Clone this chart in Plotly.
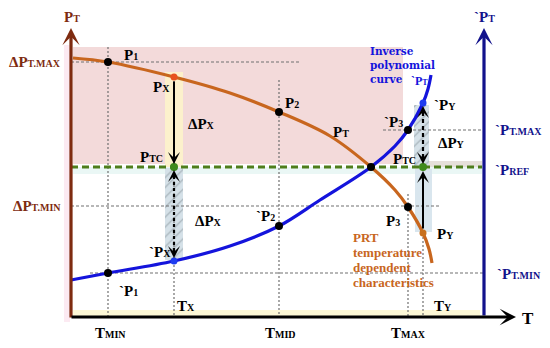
import plotly.graph_objects as go

# ---------------- diagram data (diagram units; P grows downward on screen) ----------------
# temperature marks along the T axis
T_names = ["MIN", "X", "MID", "MAX", "Y"]
T_vals = [108, 174, 279, 408, 423]
# top end of each vertical guide
T_guide_top = [47, 77, 80, 194, 233]

# horizontal guide levels
P_levels = [62, 130, 206, 273]          # ΔP_T.MAX, `P_T.MAX, ΔP_T.MIN, `P_T.MIN
P_level_from = [71, 383, 71, 90]
P_level_to = [300, 484, 440, 484]
P_REF = 167

# PRT temperature dependent characteristic (orange)
prt_T = [73, 108, 174, 230, 279, 330, 371, 395, 408, 423, 429, 432]
prt_P = [58, 62, 77, 93, 112, 136, 167, 190, 207, 233, 249, 263]

# inverse polynomial curve (blue)
inv_T = [71, 108, 174, 230, 279, 320, 371, 395, 408, 423, 428, 431]
inv_P = [280, 273, 261, 246, 226, 200, 167, 146, 130, 103, 89, 75]

# named points
black_T = [108, 279, 408, 371, 108, 279, 408]
black_P = [62, 112, 207, 167, 273, 226, 130]

# axes extents
axis_T0, axis_T1 = 71, 516
axis_right_T = 484
axis_P0, axis_P1 = 317, 28

DARKRED = "#7E2B10"
NAVY = "#12128C"
ORANGE = "#C8661E"
BLUE = "#1414DC"
GREEN = "#4E7E1C"
FONT = "Liberation Serif"

# page body has an 8px margin: the figure covers the 8..550 / 8..348 window part
PAGE_OFFSET = 8
W, H = 550, 348

fig = go.Figure()

# ---------------- background regions ----------------
shapes = []
def rect(x0, x1, y0, y1, color):
    shapes.append(dict(type="rect", xref="x", yref="y", x0=x0, x1=x1, y0=y0, y1=y1,
                       fillcolor=color, line=dict(width=0), layer="below"))

rect(73, 403, 47, 164, "#F3DADA")          # pink zone
rect(64, 70, 45, 322, "#FCEAF2")           # faint glow left of axis
rect(73, 482, 167, 174, "#EAF7F5")         # mint band under reference line
rect(425, 482, 161, 167, "#E6E0DA")        # grey band near `P_REF
rect(73, 480, 310, 316, "#FDF8D6")         # yellow band at bottom
rect(165, 183, 72, 167, "#FCF1CC")         # yellow bar at T_X
rect(415, 432, 169, 232, "#D9E6EE")        # blue bar at T_Y
fig.update_layout(shapes=shapes)

# hatched bars
def hatched(x0, x1, y0, y1):
    fig.add_trace(go.Scatter(x=[x0, x1, x1, x0, x0], y=[y0, y0, y1, y1, y0],
                             mode="lines", fill="toself", line=dict(width=0),
                             fillcolor="#D5E1E8",
                             fillpattern=dict(shape="/", fgcolor="#7D8A90",
                                              bgcolor="#D5E1E8", size=7, solidity=0.18),
                             hoverinfo="skip"))
hatched(165, 183, 168, 260)
hatched(414, 429, 105, 167)

# ---------------- guide lines ----------------
for t, top in zip(T_vals, T_guide_top):
    fig.add_trace(go.Scatter(x=[t, t], y=[top, axis_P0], mode="lines",
                             line=dict(color="#707070", width=1.2, dash="2px,2px"),
                             hoverinfo="skip"))
for p, a, b in zip(P_levels, P_level_from, P_level_to):
    fig.add_trace(go.Scatter(x=[a, b], y=[p, p], mode="lines",
                             line=dict(color="#707070", width=1.2, dash="3px,2px"),
                             hoverinfo="skip"))

# reference line
fig.add_trace(go.Scatter(x=[axis_T0, 482], y=[P_REF, P_REF], mode="lines",
                         line=dict(color=GREEN, width=3, dash="7px,4px"), hoverinfo="skip"))

# ---------------- curves ----------------
fig.add_trace(go.Scatter(x=prt_T, y=prt_P, mode="lines", line=dict(color=ORANGE, width=3.2, shape="spline"),
                         hoverinfo="skip"))
fig.add_trace(go.Scatter(x=inv_T, y=inv_P, mode="lines", line=dict(color=BLUE, width=3.2, shape="spline"),
                         hoverinfo="skip"))

# dotted / dashed shafts of double arrows
fig.add_trace(go.Scatter(x=[T_vals[1], T_vals[1]], y=[176, 252], mode="lines",
                         line=dict(color="black", width=2.2, dash="dot"), hoverinfo="skip"))
fig.add_trace(go.Scatter(x=[T_vals[4], T_vals[4]], y=[112, 158], mode="lines",
                         line=dict(color="black", width=2.2, dash="4px,3px"), hoverinfo="skip"))

# ---------------- points ----------------
fig.add_trace(go.Scatter(x=black_T, y=black_P, mode="markers",
                         marker=dict(color="black", size=8), hoverinfo="skip"))
fig.add_trace(go.Scatter(x=[T_vals[1], T_vals[4]], y=[P_REF, P_REF], mode="markers",
                         marker=dict(color="#3E8A1C", size=8), hoverinfo="skip"))
fig.add_trace(go.Scatter(x=[T_vals[1]], y=[77], mode="markers",
                         marker=dict(color="#E8521E", size=7), hoverinfo="skip"))
fig.add_trace(go.Scatter(x=[T_vals[4]], y=[233], mode="markers",
                         marker=dict(color="#C8701E", size=7), hoverinfo="skip"))
fig.add_trace(go.Scatter(x=[T_vals[1], T_vals[4]], y=[261, 103], mode="markers",
                         marker=dict(color="#1E3CF0", size=7), hoverinfo="skip"))

# ---------------- arrows ----------------
ann = []
def arrow(tx, ty, ax_, ay_, color, width, size, head=3):
    ann.append(dict(x=tx, y=ty, ax=ax_, ay=ay_, xref="x", yref="y", axref="x", ayref="y",
                    text="", showarrow=True, arrowhead=head, arrowcolor=color,
                    arrowwidth=width, arrowsize=size))

arrow(axis_T0, axis_P1, axis_T0, axis_P0 + 2, DARKRED, 3.2, 0.9)
arrow(axis_right_T, axis_P1, axis_right_T, axis_P0, NAVY, 3.2, 0.9)
arrow(axis_T1, axis_P0, axis_T0 - 1, axis_P0, "black", 3.2, 0.85)

arrow(T_vals[1], 164, T_vals[1], 80, "black", 2, 1)
arrow(T_vals[1], 170, T_vals[1], 180, "black", 2, 1)
arrow(T_vals[1], 258, T_vals[1], 248, "black", 2, 1)
arrow(T_vals[4], 171, T_vals[4], 230, "black", 2, 1)
arrow(T_vals[4], 106, T_vals[4], 116, "black", 2, 1)
arrow(T_vals[4], 164, T_vals[4], 154, "black", 2, 1)

# ---------------- text ----------------
def sub(s, size=10):
    return "<span style='font-size:%dpx'>%s</span>" % (size, s)

def label(x, y, text, color="black", size=15, xanchor="center", family=FONT, bold=True):
    ann.append(dict(x=x, y=y, xref="x", yref="y", text=("<b>%s</b>" % text) if bold else text,
                    showarrow=False, xanchor=xanchor, yanchor="middle",
                    font=dict(family=family, size=size, color=color)))

label(72, 17, "P" + sub("T"), DARKRED)
label(484, 17, "`P" + sub("T"), NAVY)
label(63, 62, "ΔP" + sub("T.MAX"), DARKRED, xanchor="right")
label(63, 206, "ΔP" + sub("T.MIN"), DARKRED, xanchor="right")
label(493, 130, "`P" + sub("T.MAX"), NAVY, xanchor="left")
label(493, 170, "`P" + sub("REF"), NAVY, xanchor="left")
label(495, 274, "`P" + sub("T.MIN"), NAVY, xanchor="left")

label(131, 55, "P" + sub("1"))
label(161, 87, "P" + sub("X"))
label(201, 124, "ΔP" + sub("X"))
label(151, 157, "P" + sub("TC"))
label(292, 103, "P" + sub("2"))
label(341, 132, "P" + sub("T"))
label(393, 122, "`P" + sub("3"))
label(451, 143, "ΔP" + sub("Y"))
label(404, 159, "P" + sub("TC"))
label(445, 105, "`P" + sub("Y"))
label(409, 81, "`P" + sub("T", 8), BLUE, size=12, xanchor="left")
label(393, 221, "P" + sub("3"))
label(445, 234, "P" + sub("Y"))
label(208, 221, "ΔP" + sub("X"))
label(265, 216, "`P" + sub("2"))
label(160, 252, "`P" + sub("X"))
label(128, 291, "`P" + sub("1"))
label(186, 306, "T" + sub("X"))
label(443, 306, "T" + sub("Y"))
label(110, 333, "T" + sub("MIN"))
label(280, 333, "T" + sub("MID"))
label(408, 333, "T" + sub("MAX"))
label(528, 318, "T", size=17)

for i, line in enumerate(["Inverse", "polynomial", "curve"]):
    label(368, 51 + 14 * i, line, BLUE, size=10.5, xanchor="left", family="DejaVu Serif")
for i, line in enumerate(["PRT", "temperature", "dependent", "characteristics"]):
    label(351, 237 + 15 * i, line, ORANGE, size=13, xanchor="left")

fig.update_layout(annotations=ann)

fig.update_layout(width=W - PAGE_OFFSET, height=H - PAGE_OFFSET, margin=dict(l=0, r=0, t=0, b=0),
                  xaxis=dict(range=[PAGE_OFFSET, W], visible=False, fixedrange=True),
                  yaxis=dict(range=[H, PAGE_OFFSET], visible=False, fixedrange=True),
                  plot_bgcolor="white", paper_bgcolor="white", showlegend=False)

fig.write_html("out.html")
